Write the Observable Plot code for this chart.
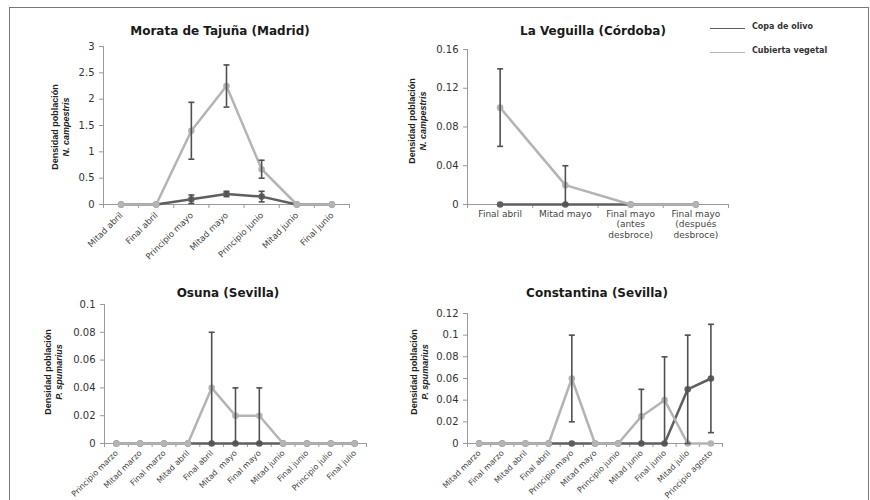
<!DOCTYPE html>
<html>
<head>
<meta charset="utf-8">
<script src="https://cdn.jsdelivr.net/npm/d3@7"></script>
<script src="https://cdn.jsdelivr.net/npm/@observablehq/plot@0.6"></script>
<style>
  body { margin: 0; background: #fff; }
  #wrap { position: relative; width: 870px; height: 500px; overflow: hidden; background: #fff; }
  #frame { position: absolute; left: 9px; top: 7px; width: 858px; height: 600px; border: 1px solid #777; }
  .layer { position: absolute; left: 0; top: 0; }
  .title { position: absolute; width: 320px; text-align: center; font: bold 12px "DejaVu Sans", sans-serif; color: #1a1a1a; }
  .ylab { position: absolute; white-space: nowrap; text-align: center; font: bold 9px "Liberation Sans Narrow", "Liberation Sans", sans-serif; line-height: 11px; color: #222; transform: translate(-50%, -50%) rotate(-90deg); }
  .ylab i { font-style: italic; }
  .leg { position: absolute; font: bold 8px "DejaVu Sans", sans-serif; color: #333; }
  .legline { position: absolute; width: 35px; height: 0; }
</style>
</head>
<body>
<div id="wrap">
  <div id="frame"></div>
</div>
<script>
// ---- Data ----
const moraCats = ["Mitad abril", "Final abril", "Principio mayo", "Mitad mayo", "Principio junio", "Mitad junio", "Final junio"];
const moraCopa = [0, 0, 0.1, 0.2, 0.15, 0, 0];
const moraCopaErr = [0, 0, 0.08, 0.05, 0.1, 0, 0];
const moraCub = [0, 0, 1.4, 2.25, 0.67, 0, 0];
const moraCubErr = [0, 0, 0.54, 0.4, 0.17, 0, 0];
const moraTicks = [0, 0.5, 1, 1.5, 2, 2.5, 3];

const vegCats = ["Final abril", "Mitad mayo", "Final mayo\n(antes\ndesbroce)", "Final mayo\n(después\ndesbroce)"];
const vegCopa = [0, 0, 0, 0];
const vegCopaErr = [0, 0, 0, 0];
const vegCub = [0.1, 0.02, 0, 0];
const vegCubErr = [0.04, 0.02, 0, 0];
const vegTicks = [0, 0.04, 0.08, 0.12, 0.16];

const osuCats = ["Principio marzo", "Mitad marzo", "Final marzo", "Mitad abril", "Final abril", "Mitad  mayo", "Final mayo", "Mitad junio", "Final junio", "Principio julio", "Final julio"];
const osuCopa = [0, 0, 0, 0, 0, 0, 0, 0, 0, 0, 0];
const osuCopaErr = [0, 0, 0, 0, 0, 0, 0, 0, 0, 0, 0];
const osuCub = [0, 0, 0, 0, 0.04, 0.02, 0.02, 0, 0, 0, 0];
const osuCubErr = [0, 0, 0, 0, 0.04, 0.02, 0.02, 0, 0, 0, 0];
const osuTicks = [0, 0.02, 0.04, 0.06, 0.08, 0.1];

const conCats = ["Mitad marzo", "Final marzo", "Mitad abril", "Final abril", "Principio mayo", "Mitad mayo", "Principio junio", "Mitad junio", "Final junio", "Mitad julio", "Principio agosto"];
const conCopa = [0, 0, 0, 0, 0, 0, 0, 0, 0, 0.05, 0.06];
const conCopaErr = [0, 0, 0, 0, 0, 0, 0, 0, 0, 0.05, 0.05];
const conCub = [0, 0, 0, 0, 0.06, 0, 0, 0.025, 0.04, 0, 0];
const conCubErr = [0, 0, 0, 0, 0.04, 0, 0, 0.025, 0.04, 0, 0];
const conTicks = [0, 0.02, 0.04, 0.06, 0.08, 0.1, 0.12];

const seriesNames = ["Copa de olivo", "Cubierta vegetal"];
const titles = ["Morata de Tajuña (Madrid)", "La Veguilla (Córdoba)", "Osuna (Sevilla)", "Constantina (Sevilla)"];
const yLabel1 = "Densidad población";
const yLabel2 = ["N. campestris", "N. campestris", "P. spumarius", "P. spumarius"];

// ---- Style ----
const DARK = "#5f5f5f", LIGHT = "#b4b4b4", ERR = "#505050", AX = "#9a9a9a";
const cap = {draw(ctx, size) { const w = Math.sqrt(size / Math.PI); ctx.moveTo(-w, 0); ctx.lineTo(w, 0); }};

function panel(o) {
  const n = o.cats.length;
  const idx = d3.range(n);
  const rows = (vals, errs) => idx.map(i => ({i, v: vals[i], e: errs[i]}));
  const copa = rows(o.copa, o.copaErr);
  const cub = rows(o.cub, o.cubErr);
  const errs = [...copa, ...cub].filter(d => d.e > 0);
  const bounds = d3.range(n + 1).map(i => i - 0.5);
  const svg = Plot.plot({
    width: 870, height: 500,
    marginLeft: o.left, marginRight: 870 - o.right, marginTop: o.top, marginBottom: 500 - o.bottom,
    style: {background: "transparent", fontFamily: "DejaVu Sans, sans-serif", fontSize: "10px", color: "#333", overflow: "visible"},
    x: {type: "linear", domain: [-0.5, n - 0.5]},
    y: {type: "linear", domain: [0, o.ymax]},
    marks: [
      Plot.axisY({ticks: o.yticks, tickSize: 4, tickPadding: 5, tickFormat: d => String(d), fontSize: 10, stroke: AX, fill: "#333", label: null}),
      Plot.axisX({ticks: bounds, tickSize: 4, tickFormat: () => "", stroke: AX, label: null}),
      Plot.axisX({ticks: idx, tickSize: 0, tickPadding: o.pad, tickFormat: i => o.cats[i], tickRotate: o.rot, fontSize: o.fs, lineHeight: 1.15, fill: "#444", label: null}),
      Plot.ruleX([-0.5], {stroke: AX}),
      Plot.ruleY([0], {stroke: AX}),
      Plot.line(copa, {x: "i", y: "v", stroke: DARK, strokeWidth: 2.5}),
      Plot.dot(copa, {x: "i", y: "v", fill: DARK, r: 3.3}),
      Plot.line(cub, {x: "i", y: "v", stroke: LIGHT, strokeWidth: 2.5}),
      Plot.dot(cub, {x: "i", y: "v", fill: LIGHT, r: 3.3}),
      Plot.ruleX(errs, {x: "i", y1: d => d.v - d.e, y2: d => d.v + d.e, stroke: ERR, strokeWidth: 1.6}),
      Plot.dot(errs, {x: "i", y: d => d.v + d.e, symbol: cap, r: 3, stroke: ERR, strokeWidth: 1.6, fill: "none"}),
      Plot.dot(errs, {x: "i", y: d => d.v - d.e, symbol: cap, r: 3, stroke: ERR, strokeWidth: 1.6, fill: "none"})
    ]
  });
  svg.classList.add("layer");
  return svg;
}

const wrap = document.getElementById("wrap");
const panels = [
  {cats: moraCats, copa: moraCopa, copaErr: moraCopaErr, cub: moraCub, cubErr: moraCubErr, yticks: moraTicks, ymax: 3,
   left: 103, right: 349, top: 46, bottom: 204, rot: -45, fs: 8.5, pad: 9,
   title: [220, 24], ylab: [55, 66, 127]},
  {cats: vegCats, copa: vegCopa, copaErr: vegCopaErr, cub: vegCub, cubErr: vegCubErr, yticks: vegTicks, ymax: 0.16,
   left: 467, right: 728, top: 49, bottom: 204, rot: 0, fs: 9, pad: 5,
   title: [593, 24], ylab: [412, 423, 121]},
  {cats: osuCats, copa: osuCopa, copaErr: osuCopaErr, cub: osuCub, cubErr: osuCubErr, yticks: osuTicks, ymax: 0.1,
   left: 104, right: 366, top: 304, bottom: 443, rot: -45, fs: 8, pad: 8,
   title: [228, 286], ylab: [48, 59, 372]},
  {cats: conCats, copa: conCopa, copaErr: conCopaErr, cub: conCub, cubErr: conCubErr, yticks: conTicks, ymax: 0.12,
   left: 467, right: 722, top: 313, bottom: 443, rot: -45, fs: 8, pad: 8,
   title: [597, 286], ylab: [414, 426, 372]}
];

panels.forEach((o, k) => {
  wrap.appendChild(panel(o));
  const t = document.createElement("div");
  t.className = "title";
  t.textContent = titles[k];
  t.style.left = (o.title[0] - 160) + "px";
  t.style.top = o.title[1] + "px";
  wrap.appendChild(t);
  const yl = document.createElement("div");
  yl.className = "ylab";
  yl.style.left = ((o.ylab[0] + o.ylab[1]) / 2) + "px";
  yl.style.top = o.ylab[2] + "px";
  yl.innerHTML = yLabel1 + "<br><i></i>";
  yl.querySelector("i").textContent = yLabel2[k];
  wrap.appendChild(yl);
});

// Legend
[[DARK, 28], [LIGHT, 52]].forEach(([c, y], k) => {
  const l = document.createElement("div");
  l.className = "legline";
  l.style.left = "710px";
  l.style.top = y + "px";
  l.style.borderTop = "1.5px solid " + c;
  wrap.appendChild(l);
  const t = document.createElement("div");
  t.className = "leg";
  t.textContent = seriesNames[k];
  t.style.left = "752px";
  t.style.top = (y - 6) + "px";
  wrap.appendChild(t);
});
</script>
</body>
</html>
